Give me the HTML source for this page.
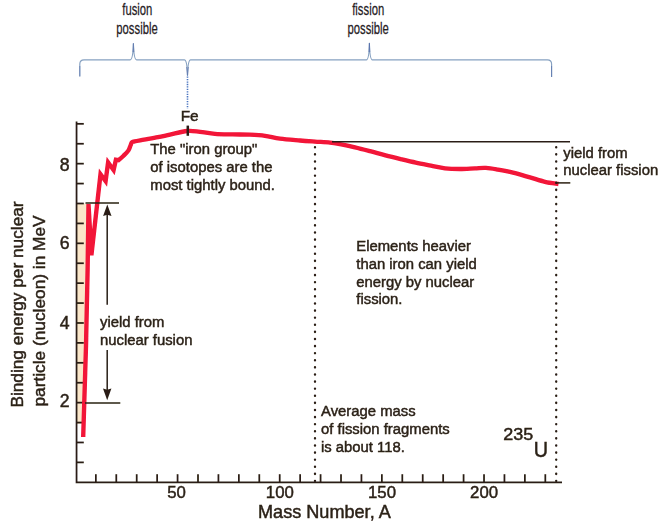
<!DOCTYPE html>
<html lang="en"><head><meta charset="utf-8"><title>Binding energy per nucleon</title>
<style>html,body{margin:0;padding:0;background:#fff}svg{display:block}text{font-family:"Liberation Sans",Arial,Helvetica,sans-serif;fill:#2b2117}.b{font-size:14.85px}.n{font-size:16.8px}.t{font-size:18.1px}text{stroke:#2b2117;stroke-width:0.45px}.c{stroke:#26211f;stroke-width:0.25px}.c{fill:#26211f}</style></head><body>
<svg width="660" height="528" viewBox="0 0 660 528">
<rect width="660" height="528" fill="#ffffff"/>
<g fill="none" stroke="#86a1c1" stroke-width="1.15" stroke-linejoin="round">
<path d="M79.8,76.4 L79.8,64 Q79.8,59.8 84,59.8 L130.2,59.8 Q132.9,59.8 133.4,43.5 Q133.9,59.8 136.6,59.8 L184.4,59.8 Q187.1,59.8 187.5,75.5"/>
<path d="M187.5,75.5 Q187.9,59.8 190.6,59.8 L366.4,59.8 Q369,59.8 369.4,43.2 Q369.8,59.8 372.4,59.8 L547.4,59.8 Q551.6,59.8 551.6,64 L551.6,77"/>
</g>
<g fill="none" stroke="#4f68a8" stroke-width="1.0" opacity="0.6">
<path d="M79.8,76.4 L79.8,66"/><path d="M551.6,66 L551.6,77"/><path d="M133,52 L133.4,43.5 L133.8,52"/><path d="M369,52 L369.4,43.2 L369.8,52"/><path d="M186.6,67 L187.5,75.5 L188.4,67"/>
</g>
<line x1="187.5" y1="76.5" x2="187.5" y2="108.5" stroke="#4a74c0" stroke-width="1.6" stroke-dasharray="1.3 1.15"/>
<text class="c" transform="translate(137.30,14.90) scale(0.680,1)" text-anchor="middle" font-size="16.6px">fusion</text>
<text class="c" transform="translate(137.00,33.60) scale(0.680,1)" text-anchor="middle" font-size="16.6px">possible</text>
<text class="c" transform="translate(368.20,14.90) scale(0.680,1)" text-anchor="middle" font-size="16.6px">fission</text>
<text class="c" transform="translate(368.20,33.60) scale(0.680,1)" text-anchor="middle" font-size="16.6px">possible</text>
<defs><filter id="soft" x="-2%" y="-2%" width="104%" height="104%"><feGaussianBlur stdDeviation="0.45"/></filter></defs>
<g filter="url(#soft)">
<polygon points="77,203.5 88,203.5 83.5,424 77,424" fill="#fae6c9"/>
<g stroke="#2a1f14" stroke-width="1.75" fill="none">
<path d="M76.55,121.4 L76.55,482.30 L562,482.30"/>
<line x1="76.55" y1="462.38" x2="83.8" y2="462.38"/>
<line x1="76.55" y1="442.47" x2="83.8" y2="442.47"/>
<line x1="76.55" y1="422.56" x2="83.8" y2="422.56"/>
<line x1="76.55" y1="402.64" x2="83.8" y2="402.64"/>
<line x1="76.55" y1="382.73" x2="83.8" y2="382.73"/>
<line x1="76.55" y1="362.81" x2="83.8" y2="362.81"/>
<line x1="76.55" y1="342.89" x2="83.8" y2="342.89"/>
<line x1="76.55" y1="322.98" x2="83.8" y2="322.98"/>
<line x1="76.55" y1="303.07" x2="83.8" y2="303.07"/>
<line x1="76.55" y1="283.15" x2="83.8" y2="283.15"/>
<line x1="76.55" y1="263.24" x2="83.8" y2="263.24"/>
<line x1="76.55" y1="243.32" x2="83.8" y2="243.32"/>
<line x1="76.55" y1="223.41" x2="83.8" y2="223.41"/>
<line x1="76.55" y1="203.49" x2="83.8" y2="203.49"/>
<line x1="76.55" y1="183.58" x2="83.8" y2="183.58"/>
<line x1="76.55" y1="163.66" x2="83.8" y2="163.66"/>
<line x1="76.55" y1="143.75" x2="83.8" y2="143.75"/>
<line x1="76.55" y1="123.83" x2="83.8" y2="123.83"/>
<line x1="95.85" y1="482.30" x2="95.85" y2="474.2"/>
<line x1="116.28" y1="482.30" x2="116.28" y2="474.2"/>
<line x1="136.71" y1="482.30" x2="136.71" y2="474.2"/>
<line x1="157.14" y1="482.30" x2="157.14" y2="474.2"/>
<line x1="177.57" y1="482.30" x2="177.57" y2="474.2"/>
<line x1="198.00" y1="482.30" x2="198.00" y2="474.2"/>
<line x1="218.43" y1="482.30" x2="218.43" y2="474.2"/>
<line x1="238.86" y1="482.30" x2="238.86" y2="474.2"/>
<line x1="259.29" y1="482.30" x2="259.29" y2="474.2"/>
<line x1="279.72" y1="482.30" x2="279.72" y2="474.2"/>
<line x1="300.15" y1="482.30" x2="300.15" y2="474.2"/>
<line x1="320.58" y1="482.30" x2="320.58" y2="474.2"/>
<line x1="341.01" y1="482.30" x2="341.01" y2="474.2"/>
<line x1="361.44" y1="482.30" x2="361.44" y2="474.2"/>
<line x1="381.87" y1="482.30" x2="381.87" y2="474.2"/>
<line x1="402.30" y1="482.30" x2="402.30" y2="474.2"/>
<line x1="422.73" y1="482.30" x2="422.73" y2="474.2"/>
<line x1="443.16" y1="482.30" x2="443.16" y2="474.2"/>
<line x1="463.59" y1="482.30" x2="463.59" y2="474.2"/>
<line x1="484.02" y1="482.30" x2="484.02" y2="474.2"/>
<line x1="504.45" y1="482.30" x2="504.45" y2="474.2"/>
<line x1="524.88" y1="482.30" x2="524.88" y2="474.2"/>
<line x1="545.31" y1="482.30" x2="545.31" y2="474.2"/>
</g>
<path d="M83.2,437.0 L86.0,346.0 L87.6,270.0 L88.5,204.0 L91.4,255.2 L100.5,174.3 L105.6,181.1 L108.1,162.5 L113.6,170.0 L115.9,159.7 L118.5,160.2 C119.35,159.45 121.97,157.30 123.60,155.70 C125.23,154.10 127.15,152.30 128.30,150.60 C129.45,148.90 129.90,146.88 130.50,145.50 C131.10,144.12 131.20,142.98 131.90,142.30 C132.60,141.62 132.67,141.83 134.70,141.40 C136.73,140.97 140.22,140.40 144.10,139.70 C147.98,139.00 153.68,138.05 158.00,137.20 C162.32,136.35 165.12,135.63 170.00,134.60 C174.88,133.57 182.30,131.45 187.30,131.00 C192.30,130.55 195.38,131.43 200.00,131.90 C204.62,132.37 209.58,133.38 215.00,133.80 C220.42,134.22 226.67,134.25 232.50,134.40 C238.33,134.55 244.58,134.47 250.00,134.70 C255.42,134.93 260.00,135.13 265.00,135.80 C270.00,136.47 274.17,137.92 280.00,138.70 C285.83,139.48 294.17,140.02 300.00,140.50 C305.83,140.98 310.00,141.25 315.00,141.60 C320.00,141.95 325.83,142.17 330.00,142.60 C334.17,143.03 335.83,143.40 340.00,144.20 C344.17,145.00 350.00,146.23 355.00,147.40 C360.00,148.57 364.92,149.87 370.00,151.20 C375.08,152.53 380.40,154.08 385.50,155.40 C390.60,156.72 395.55,157.90 400.60,159.10 C405.65,160.30 410.73,161.52 415.80,162.60 C420.87,163.68 426.13,164.65 431.00,165.60 C435.87,166.55 440.17,167.73 445.00,168.30 C449.83,168.87 455.00,169.00 460.00,169.00 C465.00,169.00 470.67,168.48 475.00,168.30 C479.33,168.12 482.17,167.68 486.00,167.90 C489.83,168.12 493.50,168.82 498.00,169.60 C502.50,170.38 507.67,171.30 513.00,172.60 C518.33,173.90 524.67,175.87 530.00,177.40 C535.33,178.93 540.25,180.70 545.00,181.80 C549.75,182.90 556.25,183.63 558.50,184.00" fill="none" stroke="#f21237" stroke-width="4.35" stroke-linejoin="miter" stroke-miterlimit="4.5"/>
<g stroke="#2a1f14" stroke-width="1.5" fill="none">
<line x1="85.5" y1="203.00" x2="119" y2="203.00"/>
<line x1="85" y1="403.00" x2="120.3" y2="403.00"/>
<line x1="332" y1="141.7" x2="570" y2="141.7"/>
<line x1="556" y1="182.9" x2="570.3" y2="182.9"/>
<line x1="107.2" y1="214" x2="107.2" y2="304.7"/>
<line x1="107.2" y1="350" x2="107.2" y2="392"/>
</g>
<polygon points="107.3,204.4 103.1,216.0 107.3,214.8 111.5,216.0" fill="#2a1f14"/>
<polygon points="107.2,400.2 103.0,388.6 107.2,389.8 111.4,388.6" fill="#2a1f14"/>
<g stroke="#2a1f14" stroke-width="2.3" fill="none" stroke-linecap="round" stroke-dasharray="0.3 6.8">
<line x1="315" y1="147.15" x2="315" y2="481"/>
<line x1="556.2" y1="147.15" x2="556.2" y2="481"/>
</g>
<line x1="187.8" y1="125.6" x2="187.8" y2="135.8" stroke="#2a1f14" stroke-width="2.5"/>
<text x="69.5" y="407.44" text-anchor="end" font-size="17.7">2</text>
<text x="69.5" y="328.88" text-anchor="end" font-size="17.7">4</text>
<text x="69.5" y="249.32" text-anchor="end" font-size="17.7">6</text>
<text x="69.5" y="170.66" text-anchor="end" font-size="17.7">8</text>
<text class="n" x="176.57" y="497.9" text-anchor="middle">50</text>
<text class="n" x="279.82" y="497.9" text-anchor="middle">100</text>
<text class="n" x="381.97" y="497.9" text-anchor="middle">150</text>
<text class="n" x="484.12" y="497.9" text-anchor="middle">200</text>
<text class="t" x="324.4" y="517.6" text-anchor="middle">Mass Number, A</text>
<text transform="translate(23,304.5) rotate(-90)" text-anchor="middle" font-size="17.25">Binding energy per nuclear</text>
<text transform="translate(45.2,311.0) rotate(-90)" text-anchor="middle" font-size="17.3">particle (nucleon) in MeV</text>
<text class="b" x="150.30" y="154.00">The "iron group"</text>
<text class="b" x="150.30" y="172.00">of isotopes are the</text>
<text class="b" x="150.30" y="190.00">most tightly bound.</text>
<text class="b" x="563.30" y="157.50">yield from</text>
<text class="b" x="563.30" y="175.20">nuclear fission</text>
<text class="b" x="356.30" y="250.60">Elements heavier</text>
<text class="b" x="356.30" y="268.55">than iron can yield</text>
<text class="b" x="356.30" y="286.50">energy by nuclear</text>
<text class="b" x="356.30" y="304.45">fission.</text>
<text class="b" x="100.00" y="327.00">yield from</text>
<text class="b" x="100.00" y="344.90">nuclear fusion</text>
<text class="b" x="321.00" y="415.90">Average mass</text>
<text class="b" x="321.00" y="433.75">of fission fragments</text>
<text class="b" x="321.00" y="451.60">is about 118.</text>
<text x="189.7" y="120.6" text-anchor="middle" font-size="15.4">Fe</text>
<text x="503.2" y="439.8" font-size="16.9" textLength="30" lengthAdjust="spacingAndGlyphs">235</text>
<text x="533.8" y="456.5" font-size="21.3" textLength="14.3" lengthAdjust="spacingAndGlyphs">U</text>
</g>
</svg></body></html>
